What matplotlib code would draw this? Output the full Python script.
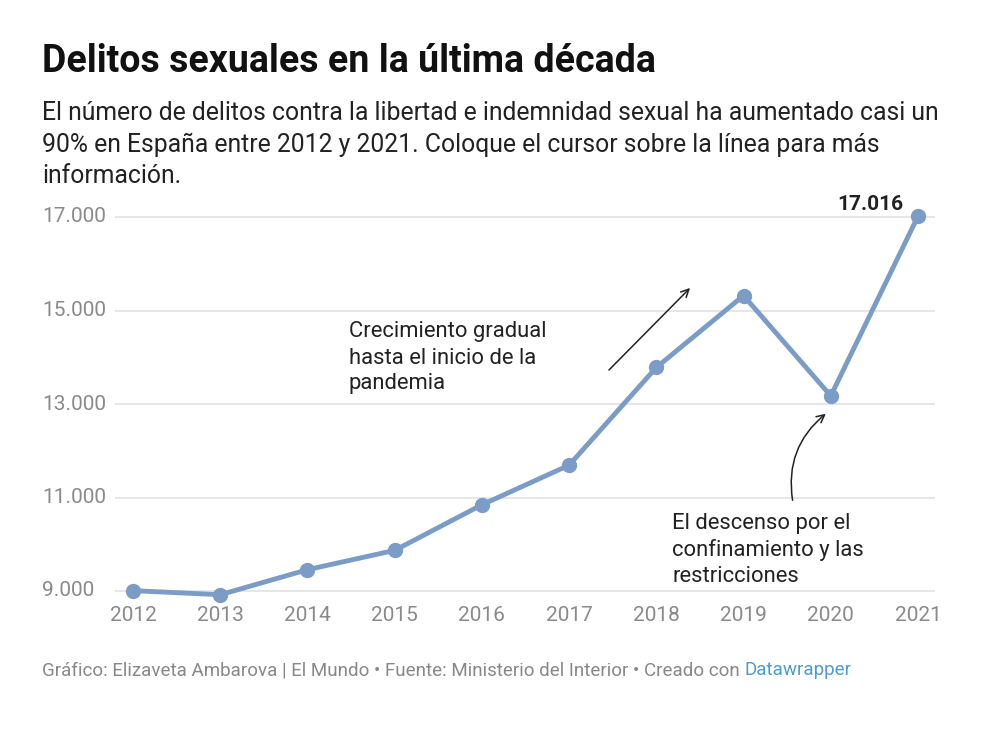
import matplotlib
matplotlib.use("Agg")
import matplotlib.pyplot as plt
import matplotlib.transforms as mtrans

years = [2012, 2013, 2014, 2015, 2016, 2017, 2018, 2019, 2020, 2021]
delitos = [9008, 8920, 9456, 9869, 10844, 11692, 13782, 15319, 13174, 17016]
yticks = [9000, 11000, 13000, 15000, 17000]
ytick_labels = ["9.000", "11.000", "13.000", "15.000", "17.000"]

title = "Delitos sexuales en la última década"
subtitle_lines = ["El número de delitos contra la libertad e indemnidad sexual ha aumentado casi un",
                  "90% en España entre 2012 y 2021. Coloque el cursor sobre la línea para más",
                  "información."]
note1_lines = ["Crecimiento gradual", "hasta el inicio de la", "pandemia"]
note2_lines = ["El descenso por el", "confinamiento y las", "restricciones"]

W, H = 990, 729
plt.rcParams['font.family'] = ['Roboto', 'DejaVu Sans']
fig = plt.figure(figsize=(W / 100, H / 100), dpi=100)

def fx(px):
    return px / W

def fy(py):
    return 1 - py / H

# axes geometry in pixels
ax_left, ax_right = 115, 935
x0px, x1px = 133, 918
ppy = (x1px - x0px) / 9
xlim = (2012 - (x0px - ax_left) / ppy, 2021 + (ax_right - x1px) / ppy)
ypx17, ypx9 = 217, 591
ppv = (ypx9 - ypx17) / 8000
ylo, yhi = 8700, 17300
ax_bot = ypx9 + (9000 - ylo) * ppv
ax_top = ypx17 - (yhi - 17000) * ppv

ax = fig.add_axes([fx(ax_left), fy(ax_bot), fx(ax_right - ax_left), (ax_bot - ax_top) / H])
ax.set_xlim(*xlim)
ax.set_ylim(ylo, yhi)
for s in ax.spines.values():
    s.set_visible(False)
ax.set_yticks(yticks)
ax.set_yticklabels([])
ax.tick_params(axis='y', length=0)
ax.grid(axis='y', color='#e2e2e2', linewidth=1.2)
ax.set_axisbelow(True)
ax.set_xticks(years)
ax.set_xticklabels([str(y) for y in years], fontsize=15, color='#8a8a8a')
ax.tick_params(axis='x', length=0, pad=1)

trans = mtrans.blended_transform_factory(fig.transFigure, ax.transData)
for v, lab in zip(yticks, ytick_labels):
    ax.text(fx(42), v, lab, transform=trans, ha='left', va='center', fontsize=15, color='#8a8a8a')

line_color = '#7b9cc7'
ax.plot(years, delitos, color=line_color, linewidth=3.5, marker='o', markersize=10,
        solid_joinstyle='round', clip_on=False, zorder=3)

def data_from_px(px, py):
    return (2012 + (px - x0px) / ppy, 9000 + (ypx9 - py) / ppv)

ax.text(*data_from_px(903, 205), "17.016", ha='right', va='center',
        fontsize=15, fontweight='bold', color='#222222')

# annotations
for i, ln in enumerate(note1_lines):
    ax.text(*data_from_px(349, 332 + 26 * i), ln, ha='left', va='center', fontsize=15.8, color='#222222')
for i, ln in enumerate(note2_lines):
    ax.text(*data_from_px(672, 524 + 26 * i), ln, ha='left', va='center', fontsize=15.8, color='#222222')

ax.annotate("", xy=data_from_px(692, 286), xytext=data_from_px(607, 372),
            arrowprops=dict(arrowstyle='->', color='#222222', lw=1.1, mutation_scale=14))
ax.annotate("", xy=data_from_px(828, 412), xytext=data_from_px(793, 503),
            arrowprops=dict(arrowstyle='->', color='#222222', lw=1.1, mutation_scale=14,
                            connectionstyle='arc3,rad=-0.3'))

fig.text(fx(42), fy(62), title, ha='left', va='center', fontsize=27, fontweight='bold', color='#111111')
for i, ln in enumerate(subtitle_lines):
    fig.text(fx(42), fy(113 + 31.5 * i), ln, ha='left', va='center', fontsize=17.8, color='#222222')

f1 = "Gráfico: Elizaveta Ambarova | El Mundo • Fuente: Ministerio del Interior • Creado con "
t = fig.text(fx(42), fy(670), f1, ha='left', va='center', fontsize=13.5, color='#888888')
fig.canvas.draw()
bb = t.get_window_extent()
fig.text(bb.x1 / W, fy(670), "Datawrapper", ha='left', va='center', fontsize=13.5, color='#4f9ad0')

fig.savefig("out.png", dpi=100)
